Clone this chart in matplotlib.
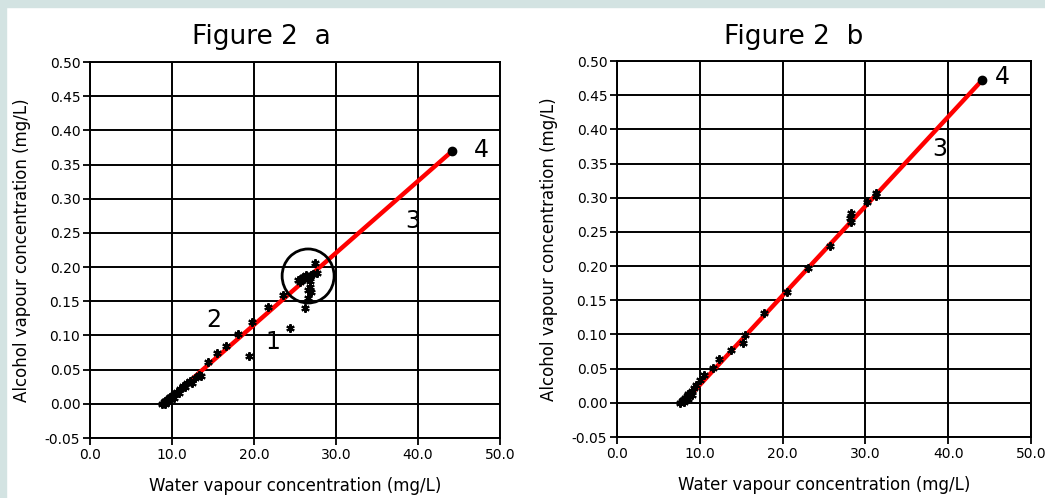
import matplotlib.pyplot as plt
from matplotlib.patches import Rectangle, Ellipse

# data
a_x = [8.8, 9.0, 9.2, 9.1, 9.4, 9.6, 9.8, 10.0, 10.3, 10.6, 11.0, 11.4, 11.8, 12.2,
       12.8, 13.3, 13.5, 14.4, 15.5, 16.6, 18.0, 19.8, 19.4, 21.7, 23.5, 24.4, 26.2,
       26.6, 26.6, 25.4, 25.8, 26.0, 26.3, 26.6, 26.9, 27.2, 25.6, 26.1, 26.8, 27.4,
       27.7, 26.8, 27.0, 9.5, 10.2, 10.9, 11.6, 12.4]
a_y = [0.000, 0.002, 0.004, 0.000, 0.006, 0.008, 0.010, 0.012, 0.015, 0.018, 0.022,
       0.026, 0.030, 0.034, 0.038, 0.042, 0.040, 0.061, 0.074, 0.085, 0.102, 0.120,
       0.070, 0.142, 0.159, 0.111, 0.140, 0.155, 0.167, 0.181, 0.184, 0.186, 0.188,
       0.186, 0.189, 0.190, 0.178, 0.183, 0.180, 0.206, 0.191, 0.171, 0.164,
       0.002, 0.009, 0.016, 0.024, 0.030]
a_line_x = [9.0, 44.2]
a_line_y = [0.0, 0.370]

b_x = [7.6, 7.8, 8.0, 8.2, 8.4, 8.6, 8.8, 9.0, 9.3, 9.6, 10.0, 10.5, 11.6, 12.3,
       13.8, 15.2, 15.5, 17.8, 20.5, 23.1, 25.7, 28.3, 28.3, 28.2, 30.2, 31.3, 31.3,
       8.1, 8.6, 9.1]
b_y = [0.000, 0.002, 0.004, 0.007, 0.010, 0.013, 0.015, 0.018, 0.022, 0.026, 0.033,
       0.040, 0.051, 0.064, 0.077, 0.0875, 0.099, 0.131, 0.162, 0.197, 0.229, 0.278,
       0.265, 0.270, 0.294, 0.307, 0.302, 0.001, 0.006, 0.012]
b_line_x = [8.0, 44.1]
b_line_y = [0.0, 0.472]

x_ticks = [0, 10, 20, 30, 40, 50]
x_labels = ['0.0', '10.0', '20.0', '30.0', '40.0', '50.0']
y_ticks = [-0.05, 0.0, 0.05, 0.10, 0.15, 0.20, 0.25, 0.30, 0.35, 0.40, 0.45, 0.50]
y_labels = ['-0.05', '0.00', '0.05', '0.10', '0.15', '0.20', '0.25', '0.30',
            '0.35', '0.40', '0.45', '0.50']

fig = plt.figure(figsize=(10.45, 4.98), dpi=100, facecolor='white')
fig.patches.append(Rectangle((0, 0), 6 / 1045, 1, transform=fig.transFigure,
                             color='#d3e3e2', zorder=0))
fig.patches.append(Rectangle((0, 1 - 7 / 498), 1, 7 / 498, transform=fig.transFigure,
                             color='#d3e3e2', zorder=0))

ax1 = fig.add_axes([90 / 1045, 60 / 498, 410 / 1045, 376 / 498])
ax2 = fig.add_axes([617 / 1045, 61 / 498, 414 / 1045, 376 / 498])


def style(ax):
    ax.set_xlim(0, 50)
    ax.set_ylim(-0.05, 0.50)
    ax.set_xticks(x_ticks)
    ax.set_xticklabels(x_labels, fontsize=10)
    ax.set_yticks(y_ticks)
    ax.set_yticklabels(y_labels, fontsize=10)
    ax.tick_params(direction='out', length=5, width=1.3, color='black', pad=2)
    ax.grid(True, color='black', linewidth=1.4)
    ax.set_axisbelow(True)
    for s in ax.spines.values():
        s.set_linewidth(1.4)
    ax.set_xlabel('Water vapour concentration (mg/L)', fontsize=12)
    ax.set_ylabel('Alcohol vapour concentration (mg/L)', fontsize=12)
    ax.xaxis.set_label_coords(0.5, -0.104)


style(ax1)
style(ax2)
ax1.yaxis.set_label_coords(-0.145, 0.5)
ax2.yaxis.set_label_coords(-0.142, 0.5)

# Figure 2 a
ax1.plot(a_line_x, a_line_y, color='red', linewidth=3.2, zorder=3)
ax1.plot(a_x, a_y, linestyle='none', marker=(6, 2, 0), markersize=6,
         markeredgewidth=1.5, color='black', zorder=4)
ax1.plot(a_line_x[-1], a_line_y[-1], 'o', color='black', markersize=6, zorder=5)
ax1.add_patch(Ellipse((26.6, 0.187), 2 * 26 / 8.2, 2 * 27 / 683.6, fill=False,
                      edgecolor='black', linewidth=2, zorder=5))
ax1.text(22.3, 0.091, '1', fontsize=17, ha='center', va='center')
ax1.text(15.1, 0.123, '2', fontsize=17, ha='center', va='center')
ax1.text(39.3, 0.268, '3', fontsize=17, ha='center', va='center')
ax1.text(47.7, 0.371, '4', fontsize=17, ha='center', va='center')

# Figure 2 b
ax2.plot(b_line_x, b_line_y, color='red', linewidth=3.2, zorder=3)
ax2.plot(b_x, b_y, linestyle='none', marker=(6, 2, 0), markersize=6,
         markeredgewidth=1.5, color='black', zorder=4)
ax2.plot(b_line_x[-1], b_line_y[-1], 'o', color='black', markersize=6, zorder=5)
ax2.text(39.0, 0.372, '3', fontsize=17, ha='center', va='center')
ax2.text(46.6, 0.477, '4', fontsize=17, ha='center', va='center')

fig.text(261 / 1045, 1 - 44 / 498, 'Figure 2  a', fontsize=19, ha='center',
         va='baseline', fontweight='medium')
fig.text(794 / 1045, 1 - 44 / 498, 'Figure 2  b', fontsize=19, ha='center',
         va='baseline', fontweight='medium')

fig.savefig('out.png', dpi=100, facecolor='white')
